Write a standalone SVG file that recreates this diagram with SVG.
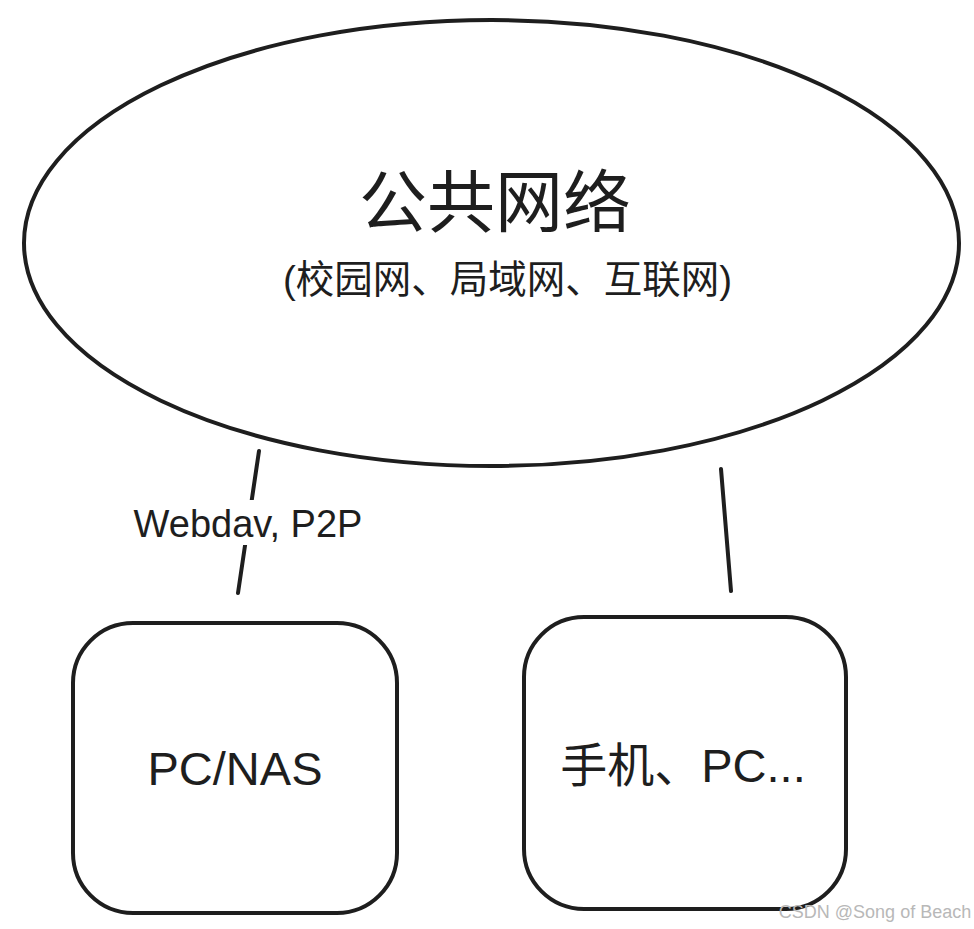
<svg xmlns="http://www.w3.org/2000/svg" width="974" height="929" viewBox="0 0 974 929">
<style>
.s{fill:none;stroke:#1e1e1e;stroke-width:4;stroke-linecap:round}
.t{fill:#1e1e1e;font-family:"Liberation Sans","Noto Sans CJK SC",sans-serif;text-anchor:middle}
</style>
<rect width="974" height="929" fill="#fff"/>
<g id="public-network">
<ellipse class="s" cx="491.5" cy="243" rx="467.5" ry="223"/>
<text class="t" x="495" y="227" font-size="68">公共网络</text>
<text class="t" x="507.5" y="293" font-size="38.5">(校园网、局域网、互联网)</text>
</g>
<g id="connectors">
<line class="s" x1="259" y1="451" x2="238" y2="593"/>
<rect x="134" y="500" width="228" height="45" fill="#fff"/>
<text class="t" x="248" y="537" font-size="38">Webdav, P2P</text>
<line class="s" x1="721" y1="469" x2="731" y2="591"/>
</g>
<g id="pc-nas">
<rect class="s" x="73" y="623" width="324" height="290" rx="60"/>
<text class="t" x="235" y="785" font-size="47">PC/NAS</text>
</g>
<g id="mobile-pc">
<rect class="s" x="524" y="617" width="322" height="292" rx="60"/>
<text class="t" x="683" y="782" font-size="47">手机、PC...</text>
</g>
<text x="875" y="918" font-size="18" fill="#b8b8b8" font-family="'Liberation Sans',sans-serif" text-anchor="middle">CSDN @Song of Beach</text>
</svg>
